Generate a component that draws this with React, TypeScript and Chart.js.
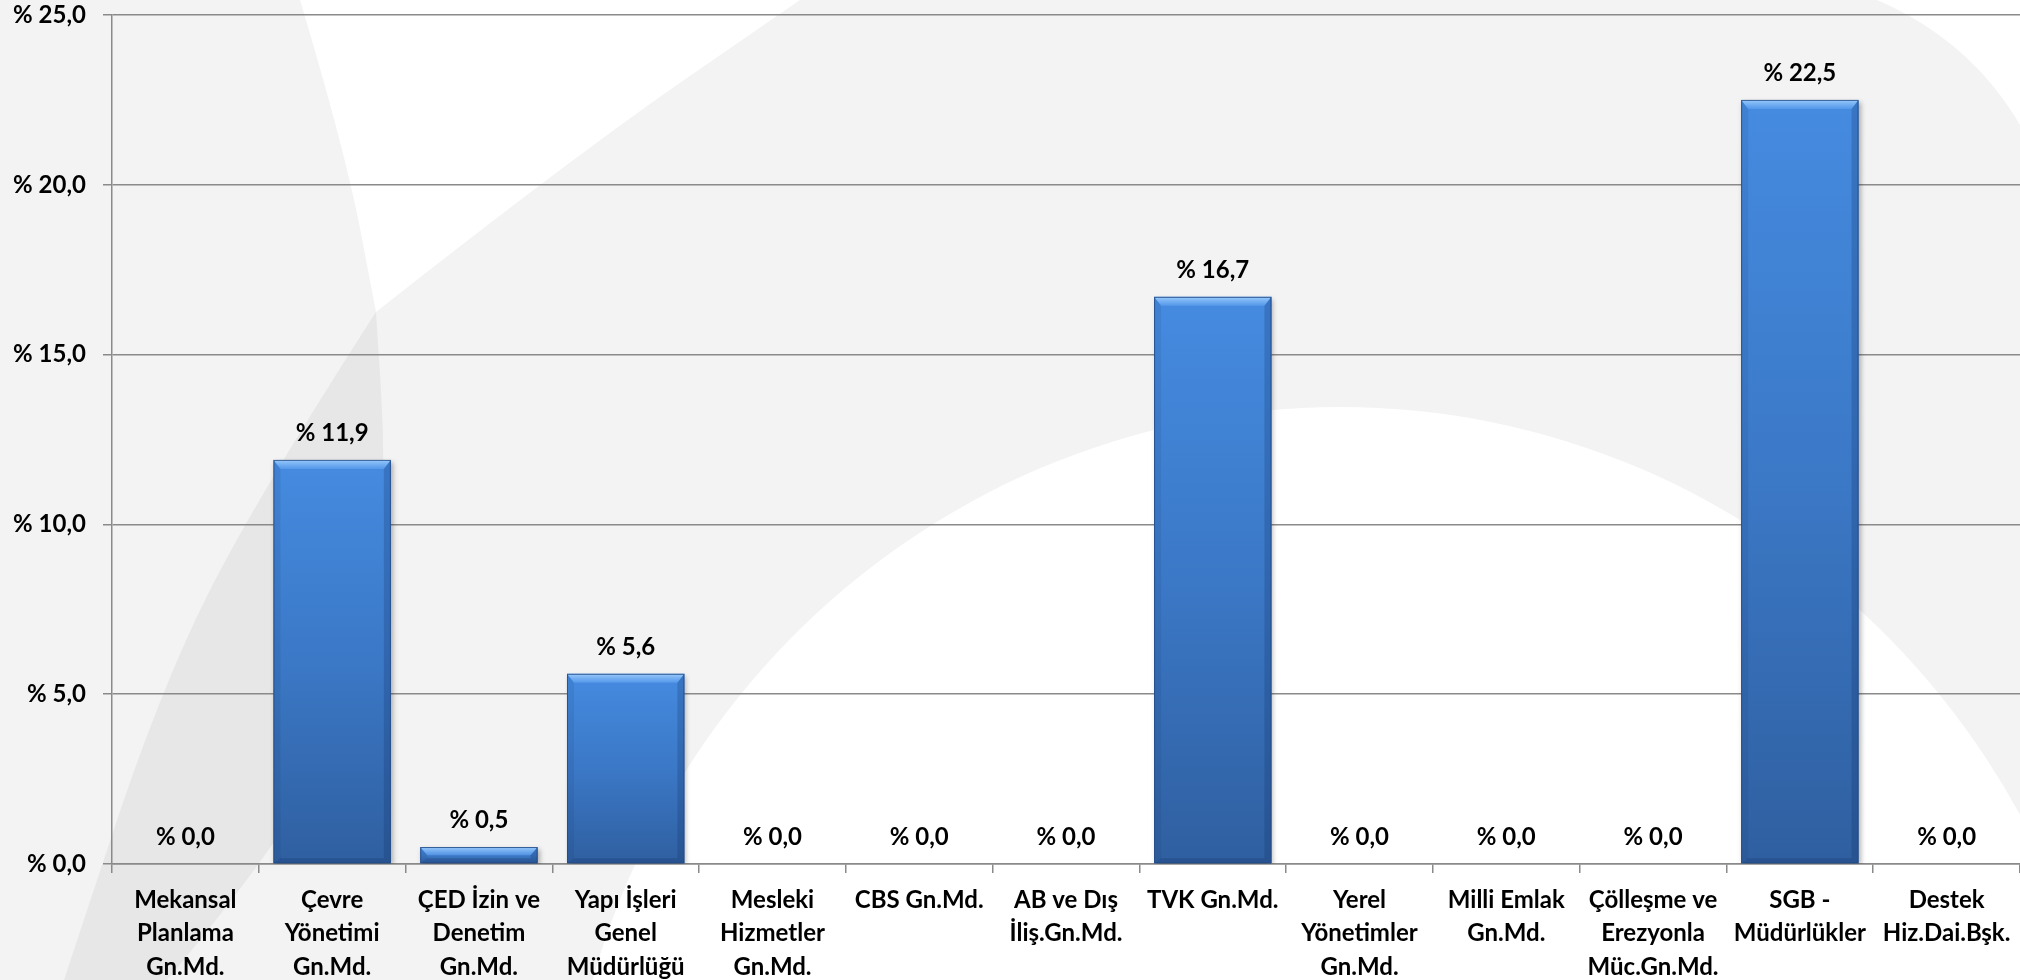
import React, { useEffect, useRef } from 'react';
import { Chart, registerables } from 'chart.js';

Chart.register(...registerables);

// ---- data ----
const CATEGORIES: string[][] = [
  ['Mekansal', 'Planlama', 'Gn.Md.'],
  ['Çevre', 'Yönetimi', 'Gn.Md.'],
  ['ÇED İzin ve', 'Denetim', 'Gn.Md.'],
  ['Yapı İşleri', 'Genel', 'Müdürlüğü'],
  ['Mesleki', 'Hizmetler', 'Gn.Md.'],
  ['CBS Gn.Md.'],
  ['AB ve Dış', 'İliş.Gn.Md.'],
  ['TVK Gn.Md.'],
  ['Yerel', 'Yönetimler', 'Gn.Md.'],
  ['Milli Emlak', 'Gn.Md.'],
  ['Çölleşme ve', 'Erezyonla', 'Müc.Gn.Md.'],
  ['SGB -', 'Müdürlükler'],
  ['Destek', 'Hiz.Dai.Bşk.'],
];
const VALUES: number[] = [0, 11.9, 0.5, 5.6, 0, 0, 0, 16.7, 0, 0, 0, 22.5, 0];
const Y_MIN = 0;
const Y_MAX = 25;
const Y_STEP = 5;

const FONT_FAMILY = 'Lato, "Open Sans", "DejaVu Sans", sans-serif';
const GRID_COLOR = '#8a8a8a';

const fmt = (v: number) => '% ' + Number(v).toFixed(1).replace('.', ',');

type Pt = [number, number];
// smooth path through points (quadratic through midpoints)
function smoothTo(ctx: CanvasRenderingContext2D, pts: Pt[], first: 'move' | 'line') {
  if (first === 'move') ctx.moveTo(pts[0][0], pts[0][1]);
  else ctx.lineTo(pts[0][0], pts[0][1]);
  for (let i = 1; i < pts.length - 1; i++) {
    const mx = (pts[i][0] + pts[i + 1][0]) / 2;
    const my = (pts[i][1] + pts[i + 1][1]) / 2;
    ctx.quadraticCurveTo(pts[i][0], pts[i][1], mx, my);
  }
  const last = pts[pts.length - 1];
  ctx.lineTo(last[0], last[1]);
}

const C1_TOP: Pt[] = [[300, 0], [345, 150], [376, 312]];
const C1_BOTTOM: Pt[] = [[376, 312], [386, 470], [374, 620], [318, 800], [167, 980]];
const C2_TOP: Pt[] = [[800, 0], [574, 156], [376, 312]];
const C2_BOTTOM: Pt[] = [[376, 312], [255, 500], [160, 690], [64, 980]];

const rev = (p: Pt[]) => p.slice().reverse();

const decorPlugin = {
  id: 'decor',
  beforeDraw(chart: any) {
    const ctx = chart.ctx as CanvasRenderingContext2D;
    const w = chart.width;
    const h = chart.height;
    ctx.save();
    ctx.fillStyle = '#f3f3f3';
    ctx.fillRect(0, 0, w, h);

    // white lens at top-left
    ctx.beginPath();
    smoothTo(ctx, C1_TOP, 'move');
    smoothTo(ctx, rev(C2_TOP), 'line');
    ctx.closePath();
    ctx.fillStyle = '#ffffff';
    ctx.fill();

    // darker band (overlap)
    ctx.beginPath();
    smoothTo(ctx, C2_BOTTOM, 'move');
    smoothTo(ctx, rev(C1_BOTTOM), 'line');
    ctx.closePath();
    ctx.fillStyle = '#e7e7e7';
    ctx.fill();

    // white dome
    ctx.beginPath();
    ctx.ellipse(1340, 1200, 778, 793, 0, 0, Math.PI * 2);
    ctx.fillStyle = '#ffffff';
    ctx.fill();

    // white corner top-right
    ctx.beginPath();
    ctx.moveTo(1877, 0);
    ctx.quadraticCurveTo(1970, 40, 2020, 125);
    ctx.lineTo(2020, 0);
    ctx.closePath();
    ctx.fill();
    ctx.restore();
  },
  beforeDatasetsDraw(chart: any) {
    const ctx = chart.ctx as CanvasRenderingContext2D;
    ctx.save();
    ctx.shadowColor = 'rgba(0,0,0,0.3)';
    ctx.shadowBlur = 5;
    ctx.shadowOffsetX = 2;
    ctx.shadowOffsetY = 2;
  },
  afterDatasetsDraw(chart: any) {
    const ctx = chart.ctx as CanvasRenderingContext2D;
    ctx.restore();
    ctx.save();
    const meta = chart.getDatasetMeta(0);
    meta.data.forEach((bar: any, i: number) => {
      const { x, y, base, width } = bar.getProps(['x', 'y', 'base', 'width'], true);
      const h = base - y;
      const l = x - width / 2;
      const r = x + width / 2;
      if (h >= 1) {
        const b = Math.min(9, h / 2);
        const s = Math.min(7, h / 2);
        const bb = Math.min(5, h / 2);
        // top bevel
        ctx.beginPath();
        ctx.moveTo(l, y);
        ctx.lineTo(r, y);
        ctx.lineTo(r - s, y + b);
        ctx.lineTo(l + s, y + b);
        ctx.closePath();
        const g = ctx.createLinearGradient(0, y, 0, y + b);
        g.addColorStop(0, 'rgba(165,212,255,0.9)');
        g.addColorStop(1, 'rgba(95,160,240,0.65)');
        ctx.fillStyle = g;
        ctx.fill();
        // left strip
        ctx.beginPath();
        ctx.moveTo(l, y);
        ctx.lineTo(l + s, y + b);
        ctx.lineTo(l + s, base - bb);
        ctx.lineTo(l, base);
        ctx.closePath();
        ctx.fillStyle = 'rgba(20,50,100,0.10)';
        ctx.fill();
        // right strip
        ctx.beginPath();
        ctx.moveTo(r, y);
        ctx.lineTo(r - s, y + b);
        ctx.lineTo(r - s, base - bb);
        ctx.lineTo(r, base);
        ctx.closePath();
        ctx.fillStyle = 'rgba(15,40,90,0.22)';
        ctx.fill();
        // bottom strip
        ctx.beginPath();
        ctx.moveTo(l, base);
        ctx.lineTo(l + s, base - bb);
        ctx.lineTo(r - s, base - bb);
        ctx.lineTo(r, base);
        ctx.closePath();
        ctx.fillStyle = 'rgba(10,30,70,0.18)';
        ctx.fill();
        // outline
        ctx.strokeStyle = 'rgba(35,75,135,0.85)';
        ctx.lineWidth = 1;
        ctx.strokeRect(l + 0.5, y + 0.5, width - 1, h - 1);
      }
      // value label
      ctx.font = `bold 24px ${FONT_FAMILY}`;
      ctx.fillStyle = '#000000';
      ctx.textAlign = 'center';
      ctx.textBaseline = 'alphabetic';
      ctx.fillText(fmt(VALUES[i]), x, y - 19);
    });
    ctx.restore();
  },
};

export default function App() {
  const ref = useRef<HTMLCanvasElement | null>(null);

  useEffect(() => {
    if (!ref.current) return;
    const chart = new Chart(ref.current, {
      type: 'bar',
      data: {
        labels: CATEGORIES,
        datasets: [
          {
            data: VALUES,
            barPercentage: 0.8,
            categoryPercentage: 1.0,
            borderWidth: 0,
            backgroundColor: (c: any) => {
              const chart = c.chart;
              const ys = chart.scales && chart.scales.y;
              if (!ys || !chart.chartArea || c.raw == null) return '#3c78c6';
              const top = ys.getPixelForValue(c.raw);
              const base = ys.getPixelForValue(0);
              if (!isFinite(top) || base - top < 1) return '#3c78c6';
              const g = chart.ctx.createLinearGradient(0, top, 0, base);
              g.addColorStop(0, '#458be0');
              g.addColorStop(0.5, '#3b78c6');
              g.addColorStop(1, '#2f5fa0');
              return g;
            },
          },
        ],
      },
      options: {
        animation: false,
        responsive: false,
        layout: { padding: { top: 15, left: 0, right: 0, bottom: 0 } },
        plugins: {
          legend: { display: false },
          tooltip: { enabled: false },
        },
        scales: {
          x: {
            grid: {
              display: true,
              drawOnChartArea: false,
              drawTicks: true,
              tickLength: 9,
              color: GRID_COLOR,
              lineWidth: 1.5,
              offset: true,
            },
            border: { display: true, color: GRID_COLOR, width: 1.5 },
            ticks: {
              color: '#000000',
              font: { family: FONT_FAMILY, size: 24, weight: 'bold', lineHeight: 1.38 },
              padding: 11,
              maxRotation: 0,
              minRotation: 0,
              autoSkip: false,
            },
            afterFit: (s: any) => {
              s.height = 116;
              s.paddingLeft = 0;
              s.paddingRight = 0;
            },
          },
          y: {
            min: Y_MIN,
            max: Y_MAX,
            ticks: {
              stepSize: Y_STEP,
              callback: (v: any) => fmt(Number(v)),
              color: '#000000',
              font: { family: FONT_FAMILY, size: 24, weight: 'bold', lineHeight: 1 },
              padding: 17,
            },
            grid: { color: GRID_COLOR, lineWidth: 1.5, tickLength: 9 },
            border: { display: true, color: GRID_COLOR, width: 1.5 },
            afterFit: (s: any) => {
              s.width = 112;
              s.paddingTop = 0;
              s.paddingBottom = 0;
            },
          },
        },
      } as any,
      plugins: [decorPlugin],
    });
    return () => chart.destroy();
  }, []);

  return (
    <div style={{ position: 'absolute', left: 0, top: 0, width: 2020, height: 980 }}>
      <canvas ref={ref} width={2020} height={980} style={{ display: 'block' }} />
    </div>
  );
}
